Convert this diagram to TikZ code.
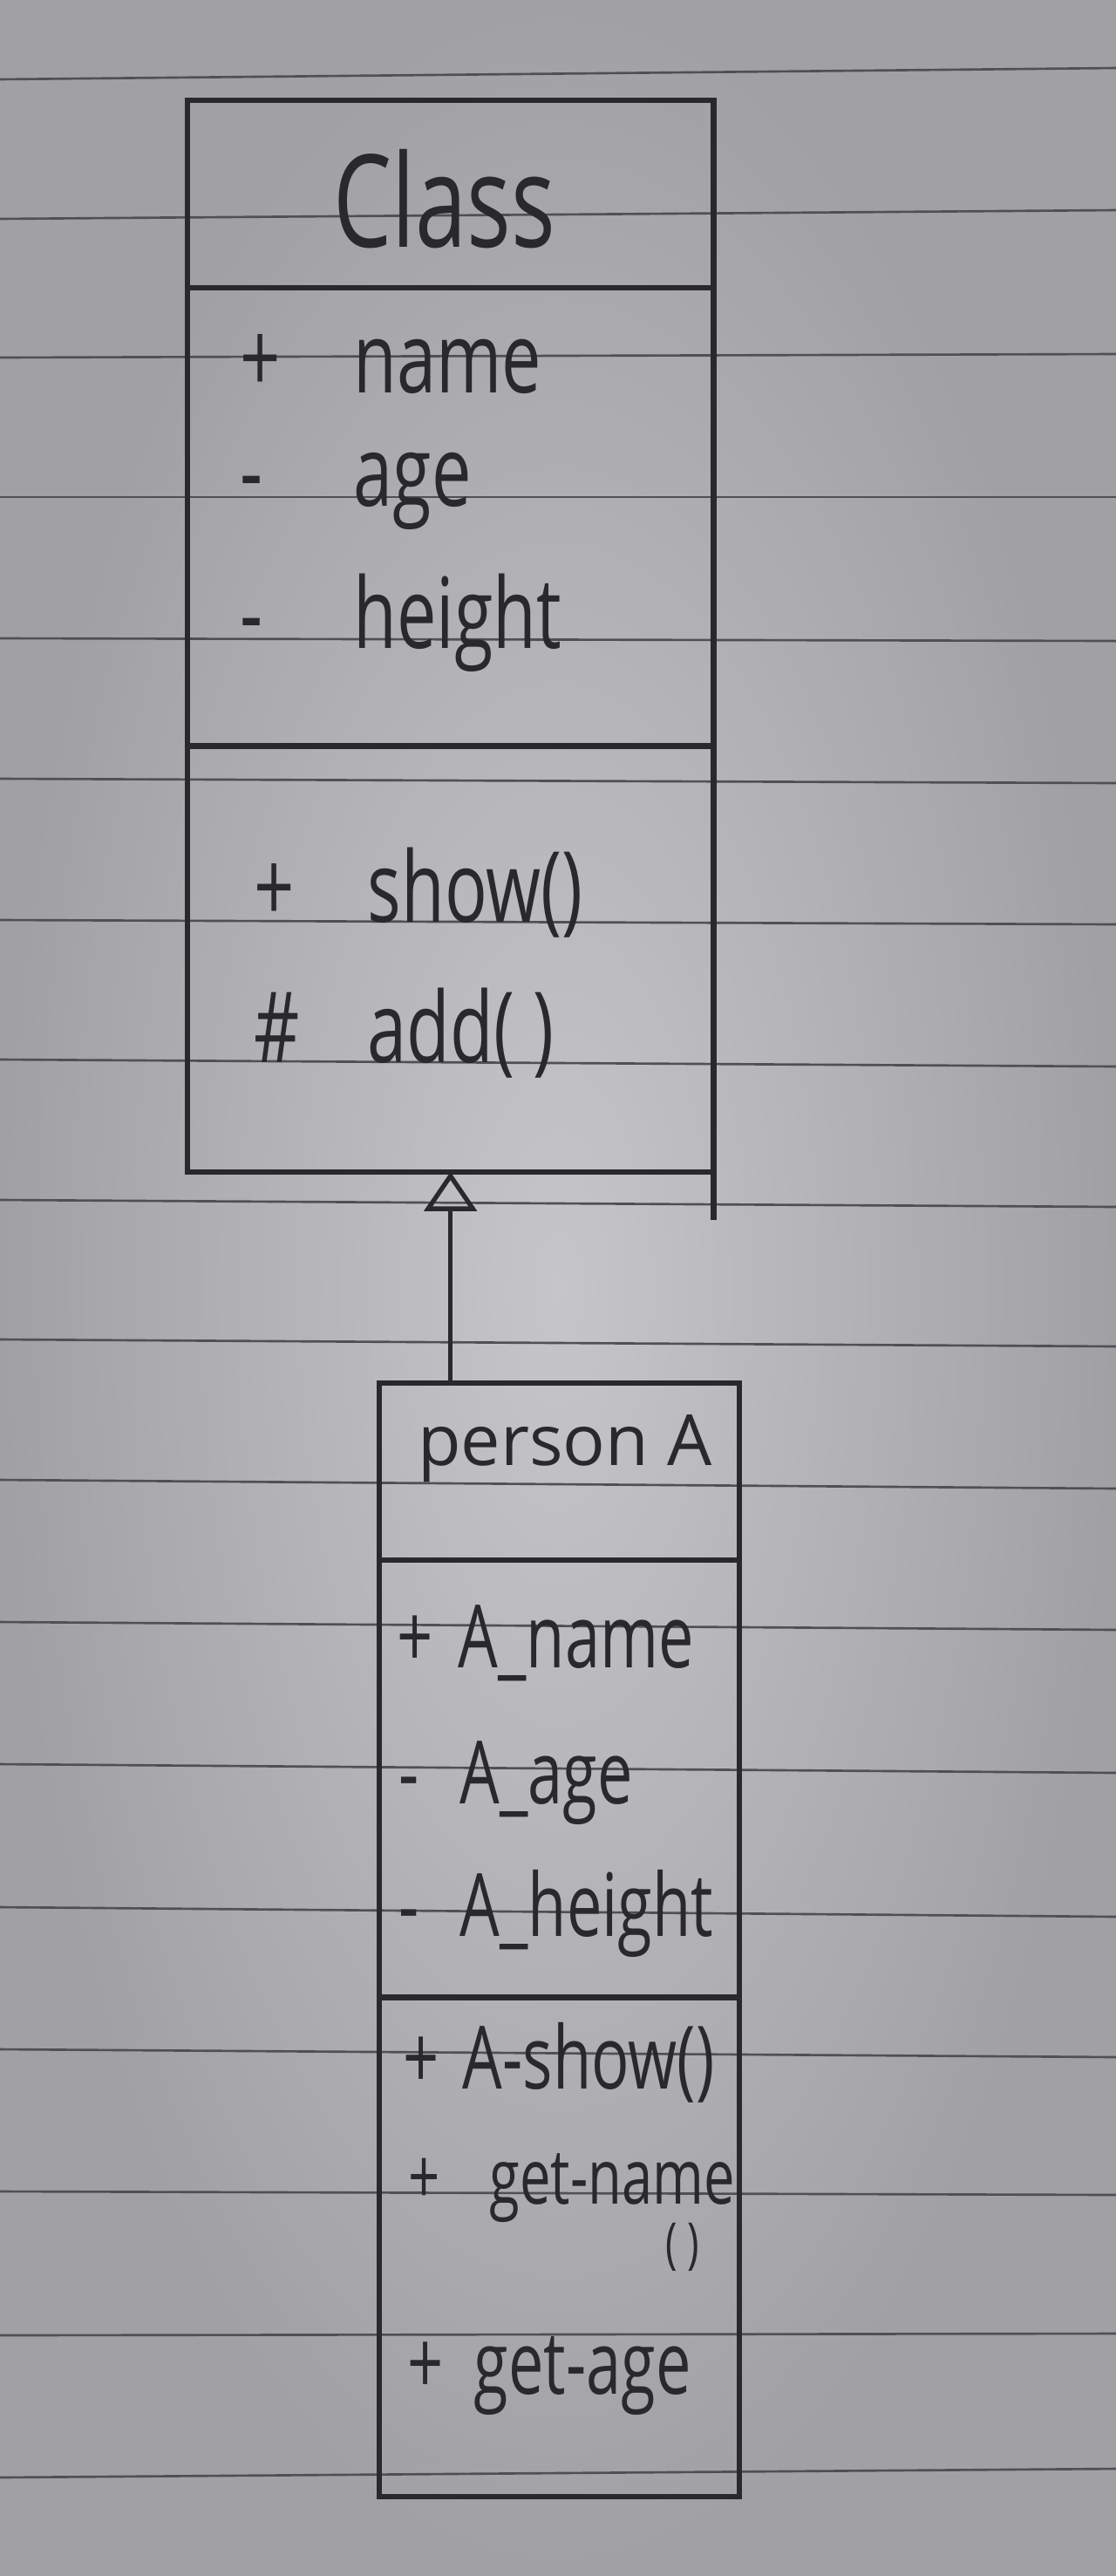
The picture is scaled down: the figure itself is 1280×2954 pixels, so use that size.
\documentclass[tikz,border=0pt]{standalone}
\usepackage{fontspec}
\setmainfont{Open Sans}
\newfontfamily\handfont{Open Sans}[FakeStretch=0.72]
\usetikzlibrary{arrows.meta}

\definecolor{paperlight}{HTML}{C6C5C8}
\definecolor{paperdark}{HTML}{A1A0A3}
\definecolor{papline}{HTML}{505054}
\definecolor{ink}{HTML}{29292B}

\newcommand\umlrow[3][1.3cm]{\makebox[#1][l]{#2}#3}

\tikzset{
    part/.style = {draw = ink, line width = 1.8pt, rectangle, inner sep = 0pt, outer sep = 0pt, anchor = north west},
    classrow/.style = {anchor = base west, inner sep = 0pt, text = ink, font = \handfont\fontsize{32}{32}\selectfont},
    personrow/.style = {classrow, font = \handfont\fontsize{28.5}{28.5}\selectfont},
}

\begin{document}
\begin{tikzpicture}[x = 0.01cm, y = -0.01cm]
        \useasboundingbox (0,0) rectangle (1280,2954);
        % lined paper
        \shade[inner color = paperlight, outer color = paperdark] (0,0) rectangle (1280,2954);
        \foreach \ya/\yb in {91/78, 251/241, 410/406, 570/570, 732/735, 893/898, 1055/1060, 1215/1223, 1376/1384,
                1536/1544, 1697/1707, 1860/1869, 2023/2033, 2187/2198, 2350/2359, 2513/2517, 2678/2676, 2841/2831}
            \draw[papline, line width = 0.75pt] (0,\ya) -- (1280,\yb);

        \begin{scope}[name prefix = class-, part/.append style = {minimum width = 6.03cm}]
            \node[part, minimum height = 2.15cm] (head) at (215,115) {};
            \node[part, minimum height = 5.25cm] (attrs) at (head.south west) {};
            \node[part, minimum height = 4.88cm] (ops) at (attrs.south west) {};
            \node[classrow, anchor = base, font = \handfont\fontsize{42}{42}\selectfont] (label) at (510,283) {Class};
            \node[classrow] (name) at (275,450) {\umlrow{+}{name}};
            \node[classrow] (age) at (275,580) {\umlrow{-}{age}};
            \node[classrow] (height) at (275,743) {\umlrow{-}{height}};
            \node[classrow] (show) at (291,1057) {\umlrow{+}{show()}};
            \node[classrow] (add) at (291,1218) {\umlrow{\#}{add( )}};
        \end{scope}
        \draw[ink, line width = 1.8pt] (class-ops.south east) -- ++(0,55);

        \begin{scope}[name prefix = person-, part/.append style = {minimum width = 4.13cm}]
            \node[part, minimum height = 2.03cm] (head) at (435,1586) {};
            \node[part, minimum height = 5.01cm] (attrs) at (head.south west) {};
            \node[part, minimum height = 5.72cm] (ops) at (attrs.south west) {};
            \node[classrow, anchor = base, font = \fontsize{23}{23}\selectfont] (label) at (648,1680) {person A};
            \node[personrow] (name) at (455,1912) {\umlrow[0.7cm]{+}{A\_name}};
            \node[personrow] (age) at (457,2068) {\umlrow[0.7cm]{-}{A\_age}};
            \node[personrow] (height) at (457,2220) {\umlrow[0.7cm]{-}{A\_height}};
            \node[personrow] (show) at (462,2395) {\umlrow[0.68cm]{+}{A-show()}};
            \node[personrow, font = \handfont\fontsize{25}{25}\selectfont] (getname) at (468,2527) {\umlrow[0.93cm]{+}{get-name}};
            \node[personrow, anchor = base, font = \handfont\fontsize{18}{18}\selectfont] (getnameargs) at (783,2594) {( )};
            \node[personrow] (getage) at (467,2745) {\umlrow[0.76cm]{+}{get-age}};
        \end{scope}

        % inheritance
        \draw[ink, line width = 1.5pt, -{Triangle[open, length = 0.45cm, width = 0.6cm, line width = 1.5pt]}]
            (class-ops.south |- person-head.north) -- (class-ops.south);
    \end{tikzpicture}
\end{document}
